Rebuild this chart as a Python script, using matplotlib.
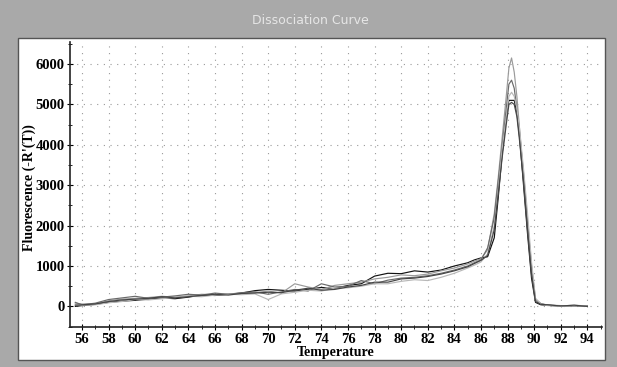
import matplotlib
matplotlib.use("Agg")
import matplotlib.pyplot as plt
from matplotlib.patches import Rectangle
from matplotlib.ticker import MultipleLocator

temperature = [55.5, 56, 57, 58, 59, 60, 61, 62, 63, 64, 65, 66, 67, 68, 69, 70, 71, 72, 73, 74,
               75, 76, 77, 78, 79, 80, 81, 82, 83, 84, 85, 85.5, 86, 86.5, 87, 87.3, 87.6, 87.9,
               88.1, 88.3, 88.5, 88.7, 88.9, 89.2, 89.5, 89.8, 90.1, 90.5, 91, 92, 93, 94]

sample_a = [0, 20, 50, 100, 130, 150, 180, 210, 190, 230, 280, 270, 300, 330, 390, 420, 400, 380,
            420, 470, 440, 520, 560, 750, 820, 810, 880, 850, 900, 1000, 1080, 1150, 1200, 1230,
            1700, 2700, 3800, 4700, 5100, 5100, 5100, 4800, 4200, 3000, 1800, 700, 100, 40, 30,
            0, 20, 0]
sample_b = [80, 60, 60, 140, 180, 200, 220, 250, 230, 260, 300, 290, 310, 320, 340, 380, 330, 560,
            480, 420, 520, 560, 600, 680, 720, 780, 760, 800, 880, 950, 1050, 1120, 1180, 1400,
            2300, 3200, 4200, 5200, 5900, 6150, 5800, 5200, 4400, 3200, 2000, 900, 150, 60, 40,
            10, 30, 10]
sample_c = [100, 40, 80, 170, 210, 250, 200, 230, 260, 300, 280, 330, 300, 340, 360, 300, 360, 420,
            380, 560, 480, 500, 640, 560, 650, 700, 720, 760, 820, 900, 1000, 1080, 1150, 1450,
            2200, 3100, 4000, 4900, 5500, 5600, 5400, 4900, 4300, 3300, 2100, 1000, 180, 70, 30,
            20, 10, 20]
sample_d = [50, 30, 40, 90, 120, 170, 160, 190, 220, 250, 240, 280, 300, 290, 310, 170, 310, 350,
            400, 380, 450, 460, 500, 560, 560, 620, 660, 640, 720, 820, 950, 1020, 1100, 1300,
            2000, 2900, 3900, 4700, 5200, 5300, 5200, 4900, 4400, 3400, 2300, 1100, 200, 60, 20,
            0, 20, 10]
sample_e = [30, 40, 60, 120, 160, 180, 200, 240, 210, 240, 270, 300, 280, 320, 330, 350, 340, 400,
            450, 400, 420, 480, 520, 600, 600, 680, 700, 740, 800, 880, 980, 1060, 1140, 1260,
            1900, 2800, 3700, 4500, 5000, 5050, 5000, 4700, 4100, 3100, 1900, 800, 120, 50, 40,
            10, 30, 0]

series = [sample_a, sample_b, sample_c, sample_d, sample_e]
colors = ["#111111", "#9a9a9a", "#6a6a6a", "#b8b8b8", "#444444"]

W, H = 617, 367
fig = plt.figure(figsize=(W / 100, H / 100), dpi=100, facecolor="#a9a9a9")

# white inner panel
fig.patches.append(Rectangle((18 / W, 1 - 360 / H), (605 - 18) / W, (360 - 38) / H,
                             transform=fig.transFigure, facecolor="white",
                             edgecolor="#555555", linewidth=1.0, zorder=-10))

fig.text(310 / W, 1 - 20 / H, "Dissociation Curve", color="#e6e6e6", ha="center",
         va="center", fontsize=9, family="DejaVu Sans")

ax = fig.add_axes([70 / W, 1 - 327 / H, (602 - 70) / W, (327 - 42) / H])
ax.set_zorder(5)
ax.set_facecolor("white")
for s, c in zip(series, colors):
    ax.plot(temperature, s, color=c, linewidth=0.85)

ax.set_xlim(55.1, 95.1)
ax.set_ylim(-510, 6545)
ax.xaxis.set_major_locator(MultipleLocator(2))
ax.xaxis.set_minor_locator(MultipleLocator(1))
ax.yaxis.set_major_locator(MultipleLocator(1000))
ax.yaxis.set_minor_locator(MultipleLocator(500))
ax.grid(True, which="major", color="#999999", linestyle=(0, (1, 5)), linewidth=0.8)
for sp in ["top", "right"]:
    ax.spines[sp].set_visible(False)
for sp in ["left", "bottom"]:
    ax.spines[sp].set_linewidth(1.2)
    ax.spines[sp].set_color("#222222")

ax.tick_params(axis="both", which="major", direction="inout", length=4, width=0.8, pad=2)
ax.tick_params(axis="both", which="minor", direction="inout", length=3, width=0.6)
for lab in ax.get_xticklabels() + ax.get_yticklabels():
    lab.set_family("Liberation Serif")
    lab.set_fontsize(10.5)
    lab.set_fontweight("bold")

ax.set_xlabel("Temperature", family="Liberation Serif", fontsize=10, fontweight="bold",
              labelpad=0)
ax.set_ylabel("Fluorescence (-R'(T))", family="Liberation Serif", fontsize=10,
              fontweight="bold")
ax.yaxis.set_label_coords(-0.064, 0.49)

fig.savefig("out.png", dpi=100, facecolor=fig.get_facecolor())
